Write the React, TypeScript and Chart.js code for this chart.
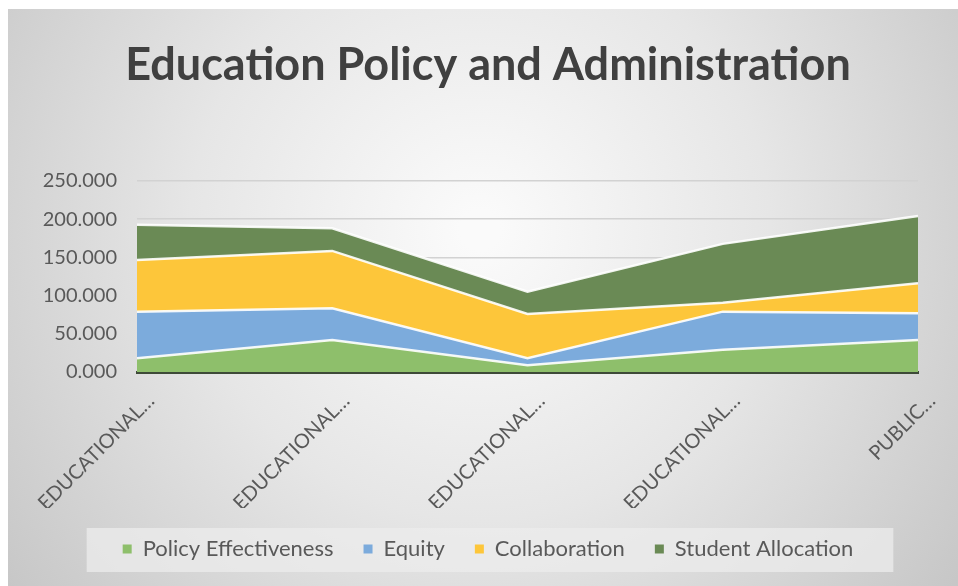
import React, { useEffect, useRef } from "react";
import { Chart, registerables } from "chart.js";

Chart.register(...registerables);

const categories = ["EDUCATIONAL…", "EDUCATIONAL…", "EDUCATIONAL…", "EDUCATIONAL…", "PUBLIC…"];
const policyEffectiveness = [18, 42, 9, 29, 42];
const equity = [61, 41.5, 9, 50, 35];
const collaboration = [67.6, 75, 58, 11.7, 39.3];
const studentAllocation = [46, 29.6, 29, 77, 88];
const yTicks = [0, 50, 100, 150, 200, 250];

const FONT = "Lato, 'Open Sans', sans-serif";

const bgPlugin = {
  id: "bgPlugin",
  beforeDraw(chart: any) {
    const { ctx, width, height } = chart;
    ctx.save();
    ctx.fillStyle = "#ffffff";
    ctx.fillRect(0, 0, width, height);
    const g = ctx.createRadialGradient(480, 230, 20, 480, 230, 620);
    g.addColorStop(0, "#fafafa");
    g.addColorStop(0.45, "#e6e6e6");
    g.addColorStop(1, "#c4c4c4");
    ctx.fillStyle = g;
    ctx.fillRect(8, 9, width - 8, height - 9);
    const lg = chart.legend;
    if (lg && lg.legendHitBoxes && lg.legendHitBoxes.length) {
      const hb = lg.legendHitBoxes;
      let l = Infinity, r = -Infinity, t = Infinity, b = -Infinity;
      hb.forEach((h: any) => {
        l = Math.min(l, h.left);
        r = Math.max(r, h.left + h.width);
        t = Math.min(t, h.top);
        b = Math.max(b, h.top + h.height);
      });
      ctx.fillStyle = "rgba(236,236,236,0.75)";
      ctx.fillRect(l - 36, t - 10, r - l + 76, b - t + 22);
    }
    ctx.restore();
  },
};

export default function App() {
  const ref = useRef<HTMLCanvasElement>(null);
  useEffect(() => {
    if (!ref.current) return;
    const mk = (label: string, data: number[], color: string, fill: any) => ({
      label,
      data,
      backgroundColor: color,
      borderColor: "rgba(255,255,255,0.9)",
      borderWidth: 2.5,
      fill,
      pointRadius: 0,
      tension: 0,
      yAxisID: "y",
    });
    const chart = new Chart(ref.current, {
      type: "line",
      data: {
        labels: categories,
        datasets: [
          mk("Policy Effectiveness", policyEffectiveness, "#8ebf6b", "origin"),
          mk("Equity", equity, "#7cabdc", "-1"),
          mk("Collaboration", collaboration, "#fdc63a", "-1"),
          mk("Student Allocation", studentAllocation, "#6a8a55", "-1"),
        ],
      },
      options: {
        responsive: false,
        animation: false,
        layout: { padding: { left: 0, right: -18, top: 0, bottom: 16 } },
        plugins: {
          title: {
            display: true,
            text: "Education Policy and Administration",
            color: "#404040",
            font: { family: FONT, size: 45, weight: "bold" },
            padding: { top: 38, bottom: 89 },
          },
          legend: {
            position: "bottom",
            labels: {
              color: "#595959",
              font: { family: FONT, size: 22 },
              boxWidth: 9,
              boxHeight: 9,
              padding: 30,
              generateLabels: (c: any) =>
                c.data.datasets.map((d: any, i: number) => ({
                  text: d.label,
                  fillStyle: d.backgroundColor,
                  strokeStyle: d.backgroundColor,
                  lineWidth: 0,
                  datasetIndex: i,
                  fontColor: "#595959",
                })),
            },
          },
          tooltip: { enabled: false },
        },
        scales: {
          x: {
            grid: { display: false },
            border: { display: true, color: "#3e4a38", width: 3 },
            ticks: {
              color: "#595959",
              font: { family: FONT, size: 20 },
              minRotation: 45,
              maxRotation: 45,
              autoSkip: false,
              labelOffset: 14,
              padding: 9,
            },
            afterFit: (s: any) => {
              s.height = 136;
            },
          },
          y: {
            stacked: true,
            min: 0,
            max: 250,
            afterBuildTicks: (s: any) => {
              s.ticks = yTicks.map((v) => ({ value: v }));
            },
            grid: { color: "#d2d2d2", lineWidth: 1.5, drawTicks: false },
            border: { display: false },
            ticks: {
              color: "#595959",
              font: { family: FONT, size: 20 },
              padding: 20,
              callback: (v: any) => Number(v).toFixed(3),
            },
            afterFit: (s: any) => {
              s.width = 137;
            },
          },
          y2: {
            type: "linear",
            position: "right",
            display: true,
            grid: { display: false },
            border: { display: false },
            ticks: { display: false },
            afterFit: (s: any) => {
              s.width = 58;
            },
          },
        },
      },
      plugins: [bgPlugin],
    } as any);
    return () => chart.destroy();
  }, []);
  return (
    <div style={{ position: "absolute", left: 0, top: 0, width: 958, height: 586 }}>
      <canvas ref={ref} width={958} height={586} />
    </div>
  );
}
